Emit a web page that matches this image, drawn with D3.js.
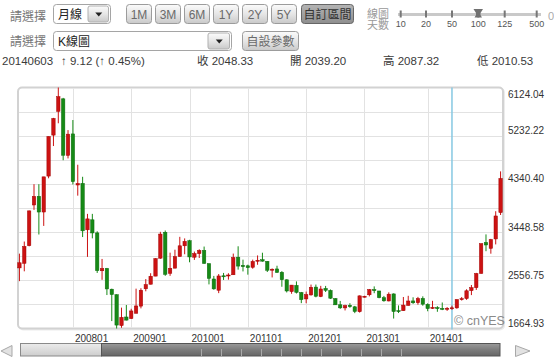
<!DOCTYPE html>
<html><head><meta charset="utf-8">
<script src="https://cdn.jsdelivr.net/npm/d3@7"></script>
<style>
html,body{margin:0;padding:0;background:#fff;}
svg{display:block;font-family:"Liberation Sans",Arial,"Noto Sans CJK TC",sans-serif;}
</style></head><body>
<svg id="c" width="554" height="357"></svg>
<script>
// ---------------- data ----------------
const months = [
"200702","200703","200704","200705","200706","200707","200708","200709","200710","200711","200712",
"200801","200802","200803","200804","200805","200806","200807","200808","200809","200810","200811","200812",
"200901","200902","200903","200904","200905","200906","200907","200908","200909","200910","200911","200912",
"201001","201002","201003","201004","201005","201006","201007","201008","201009","201010","201011","201012",
"201101","201102","201103","201104","201105","201106","201107","201108","201109","201110","201111","201112",
"201201","201202","201203","201204","201205","201206","201207","201208","201209","201210","201211","201212",
"201301","201301","201302","201303","201304","201305","201306","201307","201308","201309","201310","201311","201312",
"201401","201402","201403","201404","201405","201406","201407","201408","201409","201410","201411","201412",
"201501","201502","201503","201504"];
const openV = [
2786,2871,3197,3950,4111,3820,4485,5243,5683,5914,4868,
5265,4320,4350,3491,3676,3434,2733,2776,2392,2290,1719,1878,
1849,1947,2079,2400,2484,2634,2966,3446,2686,2781,2996,3195,
3289,2984,3050,3110,2864,2581,2373,2640,2646,2659,2984,2834,
2825,2798,2911,2937,2908,2744,2767,2705,2566,2348,2463,2330,
2212,2286,2431,2256,2406,2370,2219,2104,2046,2095,2066,1975,
2245,2289,2385,2359,2234,2174,2305,1995,1994,2091,2175,2142,2221,
2112,2036,2052,2037,2027,2039.20,2046,2204,2219,2365,2420,2684,
3258,3148,3322,3810];
const highV = [
3050,3274,3848,4335,4335,4471,5218,5562,6124.04,5932,5336,
5522,4695,4472,3786,3786,3464,2952,2786,2402,2298,2051,2100,
2030,2402,2410,2579,2688,2964,3454,3478,3068,3123,3361,3332,
3306,3088,3130,3181,2870,2638,2673,2693,2688,3051,3186,2939,
2846,2939,3017,3067,2911,2776,2826,2726,2574,2470,2536,2341,
2348,2478,2478,2454,2453,2387,2227,2175,2105,2133,2083,2276,
2270,2396,2444,2361,2268,2334,2314,2092,2248,2270,2242,2250,2260,
2131,2177,2078,2146,2061,2087.32,2203,2248,2391,2470,2694,3239,
3406,3324,3835,4572];
const lowV = [
2541,2723,3185,3860,3404,3563,4444,5041,5462,4778,4812,
4330,4123,3357,2990,3333,2693,2566,2284,1802,1664.93,1678,1814,
1844,1945,2037,2353,2481,2633,2953,2639,2639,2781,2996,3039,
2890,2934,2969,2861,2481,2382,2319,2563,2569,2659,2754,2721,
2661,2771,2844,2902,2710,2610,2699,2437,2332,2307,2312,2134,
2132,2274,2242,2245,2340,2213,2100,2027,1999,2048,1949,1959,
2238,2259,2318,2224,2161,2167,1849,1951,1993,2090,2120,2105,2086,
1984,2027,1974,2005,1991,2010.53,2031,2182,2195,2283,2379,2679,
3095,3049,3221,3765];
const closeV = [
2881,3183,3841,4109,3820,4471,5218,5552,5954,4871,5261,
4383,4348,3472,3693,3433,2736,2775,2397,2293,1728,1871,1820,
1990,2082,2373,2477,2632,2959,3412,2667,2779,2995,3195,3277,
2989,3051,3109,2870,2592,2398,2637,2638,2655,2978,2820,2808,
2790,2905,2928,2911,2743,2762,2701,2567,2359,2468,2333,2199,
2292,2428,2262,2396,2372,2225,2103,2047,2086,2068,1980,2269,
2262,2385,2365,2236,2177,2300,1979,1993,2098,2174,2141,2220,2115,
2033,2056,2033,2026,2039,2048.33,2201,2217,2363,2420,2682,3234,
3210,3310,3747,4441];
const yTickValues = [1664.93, 2556.75, 3448.58, 4340.40, 5232.22, 6124.04];
const xTickLabels = ["200801","200901","201001","201101","201201","201301","201401"];
const cursorMonth = "201406";
const rangeButtons = ["1M","3M","6M","1Y","2Y","5Y"];
const sliderLabels = ["10","20","50","100","125","500"];
const infoTexts = ["20140603","↑ 9.12 (↑ 0.45%)","收 2048.33","開 2039.20","高 2087.32","低 2010.53"];

// ---------------- drawing ----------------
const svg = d3.select("#c");
const defs = svg.append("defs");
function grad(id, stops){
  const g = defs.append("linearGradient").attr("id",id).attr("x1",0).attr("y1",0).attr("x2",0).attr("y2",1);
  stops.forEach(([o,c])=>g.append("stop").attr("offset",o).attr("stop-color",c));
}
grad("btn",[[0,"#fbfbfb"],[0.5,"#e6e6e6"],[1,"#c9c9c9"]]);
grad("btnOn",[[0,"#b4b4b4"],[1,"#8e8e8e"]]);
grad("barLight",[[0,"#ececec"],[1,"#cdcdcd"]]);
grad("barDark",[[0,"#9a9a9a"],[0.5,"#7c7c7c"],[1,"#666"]]);

const ui = svg.append("g");
// row 1
ui.append("text").attr("x",10).attr("y",21).attr("font-size",12).attr("fill","#777").text("請選擇");
function selectBox(x,y,w,h,btnX,label){
  ui.append("rect").attr("x",x+0.5).attr("y",y+0.5).attr("width",w).attr("height",h).attr("rx",3)
    .attr("fill","#fff").attr("stroke","#a5a5a5");
  ui.append("rect").attr("x",btnX).attr("y",y+2).attr("width",x+w-btnX-1.5).attr("height",h-3).attr("rx",2)
    .attr("fill","url(#btn)").attr("stroke","#b0b0b0");
  const cx = (btnX + x+w-1.5)/2 + 0.5, cy = y+h/2+1;
  ui.append("path").attr("d",`M${cx-3.5},${cy-2}L${cx+3.5},${cy-2}L${cx},${cy+2}Z`).attr("fill","#222");
  ui.append("text").attr("x",x+5).attr("y",y+h/2+5).attr("font-size",12).attr("fill","#222").text(label);
}
selectBox(53,4,57,19,88,"月線");
rangeButtons.forEach((b,i)=>{
  const x = 126 + i*29;
  ui.append("rect").attr("x",x+0.5).attr("y",4.5).attr("width",25).attr("height",19).attr("rx",3)
    .attr("fill","url(#btn)").attr("stroke","#9c9c9c");
  ui.append("text").attr("x",x+13).attr("y",18.5).attr("text-anchor","middle").attr("font-size",12)
    .attr("fill","#6a6a6a").text(b);
});
ui.append("rect").attr("x",301.5).attr("y",4.5).attr("width",52).attr("height",19).attr("rx",3)
  .attr("fill","url(#btnOn)").attr("stroke","#666");
ui.append("text").attr("x",327.5).attr("y",18.5).attr("text-anchor","middle").attr("font-size",12)
  .attr("fill","#333").text("自訂區間");
ui.append("text").attr("x",367).attr("y",18).attr("font-size",11).attr("fill","#999").text("線圖");
ui.append("text").attr("x",367).attr("y",29).attr("font-size",11).attr("fill","#999").text("天數");
// slider
const sliderX = [400.7, 426, 452, 478.3, 504.7, 536.7];
ui.append("rect").attr("x",398).attr("y",13).attr("width",143).attr("height",3).attr("fill","#c9c9c9");
sliderX.forEach((x,i)=>{
  ui.append("rect").attr("x",x-1).attr("y",10.5).attr("width",2).attr("height",7).attr("fill","#777");
  ui.append("text").attr("x",x).attr("y",27).attr("text-anchor","middle").attr("font-size",9)
    .attr("fill","#555").text(sliderLabels[i]);
});
ui.append("path").attr("d","M473.5,9L483,9L480.5,13L480.5,15L482,17.5L474.5,17.5L476,15L476,13Z").attr("fill","#707070");
ui.append("text").attr("x",548).attr("y",20).attr("font-size",11).attr("fill","#aaa").text("0");

// row 2
ui.append("text").attr("x",10).attr("y",46).attr("font-size",12).attr("fill","#777").text("請選擇");
selectBox(53,31,178,19,208,"K線圖");
ui.append("rect").attr("x",242.5).attr("y",31.5).attr("width",56).attr("height",19).attr("rx",3)
  .attr("fill","url(#btn)").attr("stroke","#9c9c9c");
ui.append("text").attr("x",270.5).attr("y",45.5).attr("text-anchor","middle").attr("font-size",12)
  .attr("fill","#6a6a6a").text("自設參數");

// row 3
const infoX = [2, 61, 197, 290, 383, 477];
infoTexts.forEach((t,i)=>{
  ui.append("text").attr("x",infoX[i]).attr("y",65).attr("font-size",11.5).attr("fill","#3a3a3a").text(t);
});

// ---------------- chart ----------------
const L=18, R=503, T=87.5, B=328.5;
const n = months.length;
const x = d3.scaleBand().domain(d3.range(n)).range([17, 503]);
const cx = i => x(i) + x.bandwidth()/2;
const yMin = yTickValues[0], yMax = yTickValues[yTickValues.length-1];
const y = d3.scaleLinear().domain([yMin, yMax]).range([B, T]);

svg.append("rect").attr("x",L+1).attr("y",T+1).attr("width",R-L).attr("height",B-T).attr("rx",4)
  .attr("fill","none").attr("stroke","#ececec").attr("stroke-width",2);
svg.append("rect").attr("x",L).attr("y",T).attr("width",R-L).attr("height",B-T).attr("rx",4)
  .attr("fill","#fff").attr("stroke","#d2d2d2").attr("stroke-width",2);

const grid = svg.append("g");
const gridVals = d3.range(1,10).map(k => yMin + k*(yMax-yMin)/10);
gridVals.forEach(v=>{
  grid.append("line").attr("x1",L+1).attr("x2",R-1).attr("y1",Math.round(y(v))+0.5).attr("y2",Math.round(y(v))+0.5)
    .attr("stroke","#e2e2e2");
});
const tickIdx = xTickLabels.map(l => months.indexOf(l));
tickIdx.forEach(i=>{
  const xx = Math.round(cx(i))+0.5;
  grid.append("line").attr("x1",xx).attr("x2",xx).attr("y1",T+1).attr("y2",B-1).attr("stroke","#e2e2e2");
});

// cursor
const ci = months.indexOf(cursorMonth);
svg.append("line").attr("x1",cx(ci)).attr("x2",cx(ci)).attr("y1",T).attr("y2",B+1)
  .attr("stroke","#86c8e2").attr("stroke-width",1.5);

// candles
const bw = 3.4;
const candles = svg.append("g");
d3.range(n).forEach(i=>{
  const up = closeV[i] >= openV[i];
  const fill = up ? "#cc1212" : "#168a16";
  const edge = up ? "#a40000" : "#0c6a0c";
  candles.append("line").attr("x1",cx(i)).attr("x2",cx(i)).attr("y1",y(highV[i])).attr("y2",y(lowV[i]))
    .attr("stroke",fill).attr("stroke-width",1);
  const top = y(Math.max(openV[i],closeV[i])), bot = y(Math.min(openV[i],closeV[i]));
  candles.append("rect").attr("x",cx(i)-bw/2).attr("y",top).attr("width",bw).attr("height",Math.max(1,bot-top))
    .attr("fill",fill).attr("stroke",edge).attr("stroke-width",0.5);
});

// watermark
svg.append("text").attr("x",454).attr("y",325).attr("font-size",12.5).attr("fill","#8a8a8a").text("© cnYES");

// y labels
yTickValues.forEach((v,i)=>{
  const yy = i === yTickValues.length-1 ? y(v)+10.5 : y(v)-1.5;
  svg.append("text").attr("x",508).attr("y",yy).attr("font-size",10).attr("fill","#333").text(v.toFixed(2));
});
// x labels
tickIdx.forEach((i,k)=>{
  svg.append("text").attr("x",cx(i)+2).attr("y",341.5).attr("font-size",10).attr("fill","#333").text(xTickLabels[k]);
});

// scrollbar
const sb = svg.append("g");
sb.append("path").attr("d","M1,351L12,345.5L12,356.5Z").attr("fill","#e2e2e2").attr("stroke","#a8a8a8");
sb.append("path").attr("d","M515.5,345.5L515.5,356.5L530,351Z").attr("fill","#e2e2e2").attr("stroke","#a8a8a8");
sb.append("rect").attr("x",20.5).attr("y",343.5).attr("width",81).attr("height",12.5).attr("fill","url(#barLight)").attr("stroke","#8a8a8a");
sb.append("rect").attr("x",101.5).attr("y",343.5).attr("width",398.5).attr("height",12.5).attr("fill","url(#barDark)").attr("stroke","#555");
d3.range(201, 402, 20).forEach(xx=>{
  sb.append("line").attr("x1",xx+0.5).attr("x2",xx+0.5).attr("y1",349).attr("y2",356).attr("stroke","#a9a9a9");
});
</script>
</body></html>
